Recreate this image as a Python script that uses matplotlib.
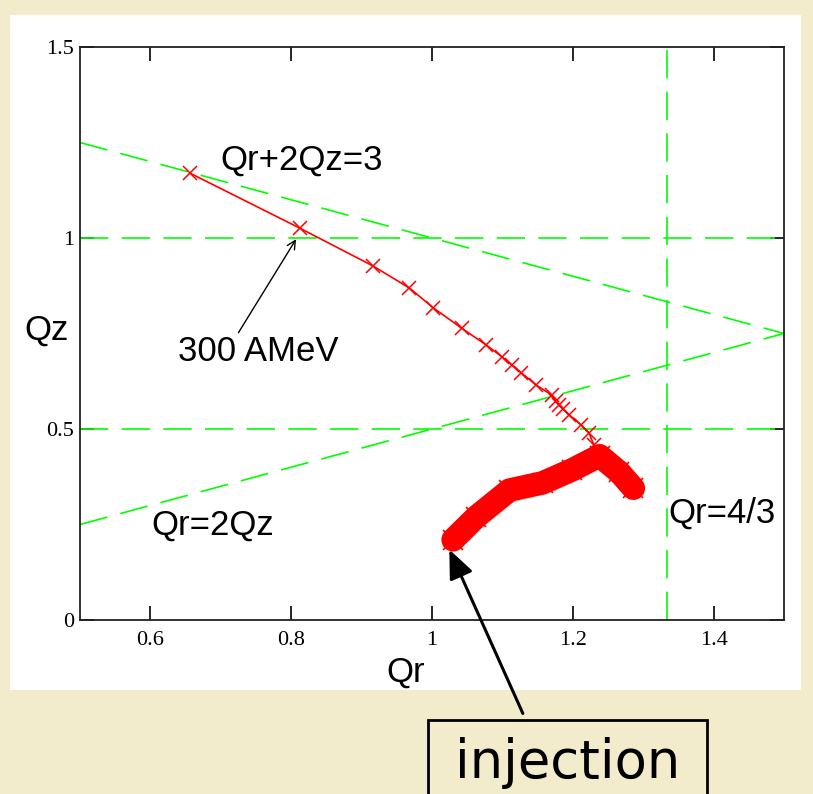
import matplotlib
matplotlib.use("Agg")
import matplotlib.pyplot as plt
from matplotlib.patches import Rectangle

# tune track, one marker per energy step
qr_track = [0.656, 0.812, 0.916, 0.968, 1.002, 1.042, 1.077, 1.100, 1.113, 1.127,
            1.148, 1.170, 1.176, 1.181, 1.186, 1.195, 1.212, 1.223, 1.230]
qz_track = [1.170, 1.026, 0.927, 0.869, 0.817, 0.764, 0.720, 0.688, 0.668, 0.647,
            0.615, 0.589, 0.572, 0.562, 0.553, 0.537, 0.510, 0.490, 0.458]

# dense cloud of tunes near injection (centre line of the band)
qr_cloud = [1.030, 1.063, 1.110, 1.157, 1.199, 1.238, 1.266, 1.286]
qz_cloud = [0.210, 0.270, 0.340, 0.359, 0.393, 0.430, 0.387, 0.345]

# resonance lines
qr_res = [0.5, 1.5]
qz_sum = [1.25, 0.75]      # Qr + 2Qz = 3
qz_diff = [0.25, 0.75]     # Qr = 2Qz
qz_levels = [0.5, 1.0]
qr_vert = 4 / 3

xticks = [0.6, 0.8, 1.0, 1.2, 1.4]
xtick_labels = ["0.6", "0.8", "1", "1.2", "1.4"]
yticks = [0, 0.5, 1.0, 1.5]
ytick_labels = ["0", "0.5", "1", "1.5"]

W, H = 813, 794
fig = plt.figure(figsize=(W / 100, H / 100), dpi=100)
fig.patch.set_facecolor("#F3ECCC")

# white panel behind the plot
fig.add_artist(Rectangle((10 / W, 1 - 690 / H), 791 / W, 675 / H,
                         transform=fig.transFigure, facecolor="white",
                         edgecolor="none", zorder=0))

ax = fig.add_axes([80 / W, 1 - 620 / H, 704 / W, 573 / H])
ax.set_xlim(0.5, 1.5)
ax.set_ylim(0, 1.5)

green = "#00FF00"
dash = (17, 8)
ax.plot(qr_res, qz_sum, color=green, lw=1.2, dashes=dash)
ax.plot(qr_res, qz_diff, color=green, lw=1.2, dashes=dash)
for lvl in qz_levels:
    ax.axhline(lvl, color=green, lw=1.2, dashes=dash)
ax.axvline(qr_vert, color=green, lw=1.2, dashes=dash)

red = "#FF0000"
ax.plot(qr_track, qz_track, color=red, lw=1.2, marker="x", ms=10, mew=1.1)
ax.plot(qr_cloud, qz_cloud, color=red, lw=17, solid_capstyle="round",
        solid_joinstyle="round")
ax.plot(qr_cloud, qz_cloud, color=red, lw=0, marker="x", ms=15, mew=1.2)

txt = dict(family="Liberation Sans", fontsize=25, va="center", ha="left")
ax.text(0.699, 1.204, "Qr+2Qz=3", **txt)
ax.text(0.639, 0.702, "300 AMeV", **txt)
ax.text(0.602, 0.249, "Qr=2Qz", **txt)
ax.text(1.336, 0.280, "Qr=4/3", **txt)
ax.text(-0.047, 0.506, "Qz", transform=ax.transAxes, family="Liberation Sans",
        fontsize=25, ha="center", va="center")
ax.text(0.462, -0.091, "Qr", transform=ax.transAxes, family="Liberation Sans",
        fontsize=25, ha="center", va="center")

ax.annotate("", xy=(0.809, 1.003), xytext=(0.723, 0.746),
            arrowprops=dict(arrowstyle="->,head_length=0.6,head_width=0.3",
                            color="black", lw=1))
ax.annotate("", xy=(1.023, 0.191), xytext=(524, 78), textcoords="figure pixels",
            annotation_clip=False,
            arrowprops=dict(arrowstyle="-|>,head_length=0.7,head_width=0.3",
                            color="black", lw=2.2, mutation_scale=25))

# label box below the plot
fig.add_artist(Rectangle((428 / W, -0.05), 279 / W, 0.05 + (H - 720) / H,
                         transform=fig.transFigure, facecolor="none",
                         edgecolor="black", lw=2))
fig.text(568 / W, 16 / H, "injection", family="DejaVu Sans", fontsize=38,
         ha="center", va="baseline")

ax.set_xticks(xticks, xtick_labels)
ax.set_yticks(yticks, ytick_labels)
ax.tick_params(direction="in", length=10, width=1.2, top=True, right=True,
               labelsize=16, labelfontfamily="Liberation Serif")
ax.tick_params(axis="x", pad=8)
ax.tick_params(axis="y", pad=4)
for sp in ax.spines.values():
    sp.set_linewidth(1.3)
    sp.set_color("#222222")

fig.savefig("out.png", dpi=100, facecolor=fig.get_facecolor())
